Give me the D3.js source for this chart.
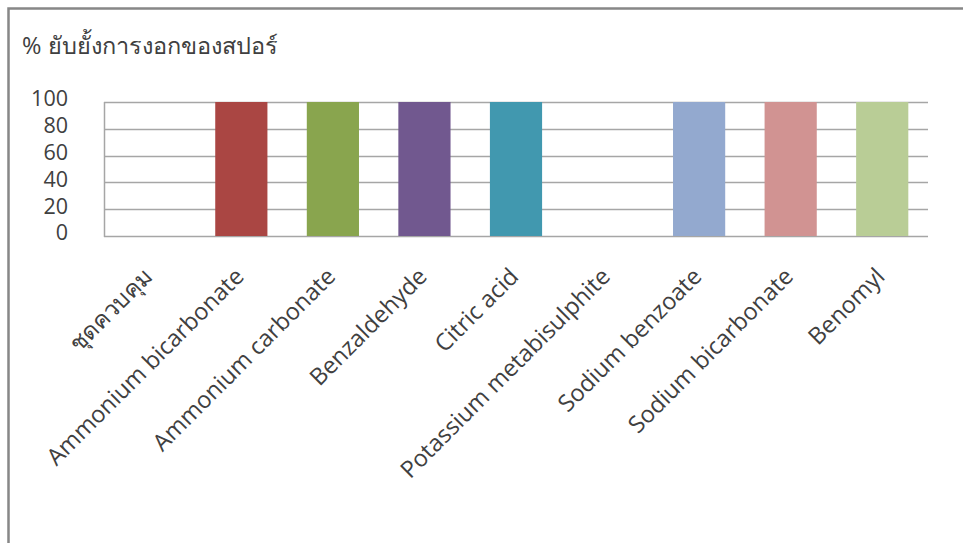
<!DOCTYPE html>
<html><head><meta charset="utf-8">
<script src="https://cdn.jsdelivr.net/npm/d3@7"></script>
<style>
html,body{margin:0;padding:0;background:#fff;}
svg{display:block;}
text{font-family:"Open Sans","Noto Sans",sans-serif;fill:#404040;}
</style></head>
<body><svg id="c" width="963" height="543"></svg>
<script>
const title = "% ยับยั้งการงอกของสปอร์";
const categories = ["ชุดควบคุม","Ammonium bicarbonate","Ammonium carbonate","Benzaldehyde","Citric acid","Potassium metabisulphite","Sodium benzoate","Sodium bicarbonate","Benomyl"];
const values = [0,100,100,100,100,0,100,100,100];
const colors = ["#4572A7","#AA4643","#89A54E","#71588F","#4198AF","#DB843D","#93A9CF","#D19392","#B9CD96"];
const yTicks = [0,20,40,60,80,100];

const svg = d3.select("#c");
svg.append("path").attr("d","M8.5,543 L8.5,8.5 L963,8.5").attr("fill","none").attr("stroke","#878787").attr("stroke-width",2.5);

const x = d3.scaleBand().domain(categories).range([104,928]).paddingInner(0.43).paddingOuter(0.215);
const y = d3.scaleLinear().domain([0,100]).range([236,102]);

svg.append("text").attr("x",22).attr("y",54).attr("font-size",23.5).text(title);

svg.append("g").selectAll("line").data(yTicks).join("line")
  .attr("x1",104).attr("x2",928).attr("y1",d=>Math.round(y(d))+0.5).attr("y2",d=>Math.round(y(d))+0.5)
  .attr("stroke","#a6a6a6").attr("stroke-width",1.5);
svg.append("line").attr("x1",104.5).attr("x2",104.5).attr("y1",102).attr("y2",237).attr("stroke","#a6a6a6").attr("stroke-width",1.5);

const yAxis = d3.axisLeft(y).tickValues(yTicks).tickSize(0).tickPadding(0);
const gy = svg.append("g").attr("transform","translate(68,-3)").call(yAxis);
gy.select(".domain").remove();
gy.selectAll("text").attr("font-size",21.5).attr("font-family","Open Sans").attr("fill","#404040");

svg.append("g").selectAll("rect").data(values).join("rect")
  .attr("x",(d,i)=>x(categories[i])).attr("width",x.bandwidth())
  .attr("y",d=>y(d)).attr("height",d=>y(0)-y(d))
  .attr("fill",(d,i)=>colors[i]);

svg.append("g").selectAll("text").data(categories).join("text")
  .attr("transform",d=>`translate(${x(d)+x.bandwidth()/2+4},278) rotate(-45)`)
  .attr("text-anchor","end").attr("font-size",23.5).text(d=>d);
</script></body></html>
